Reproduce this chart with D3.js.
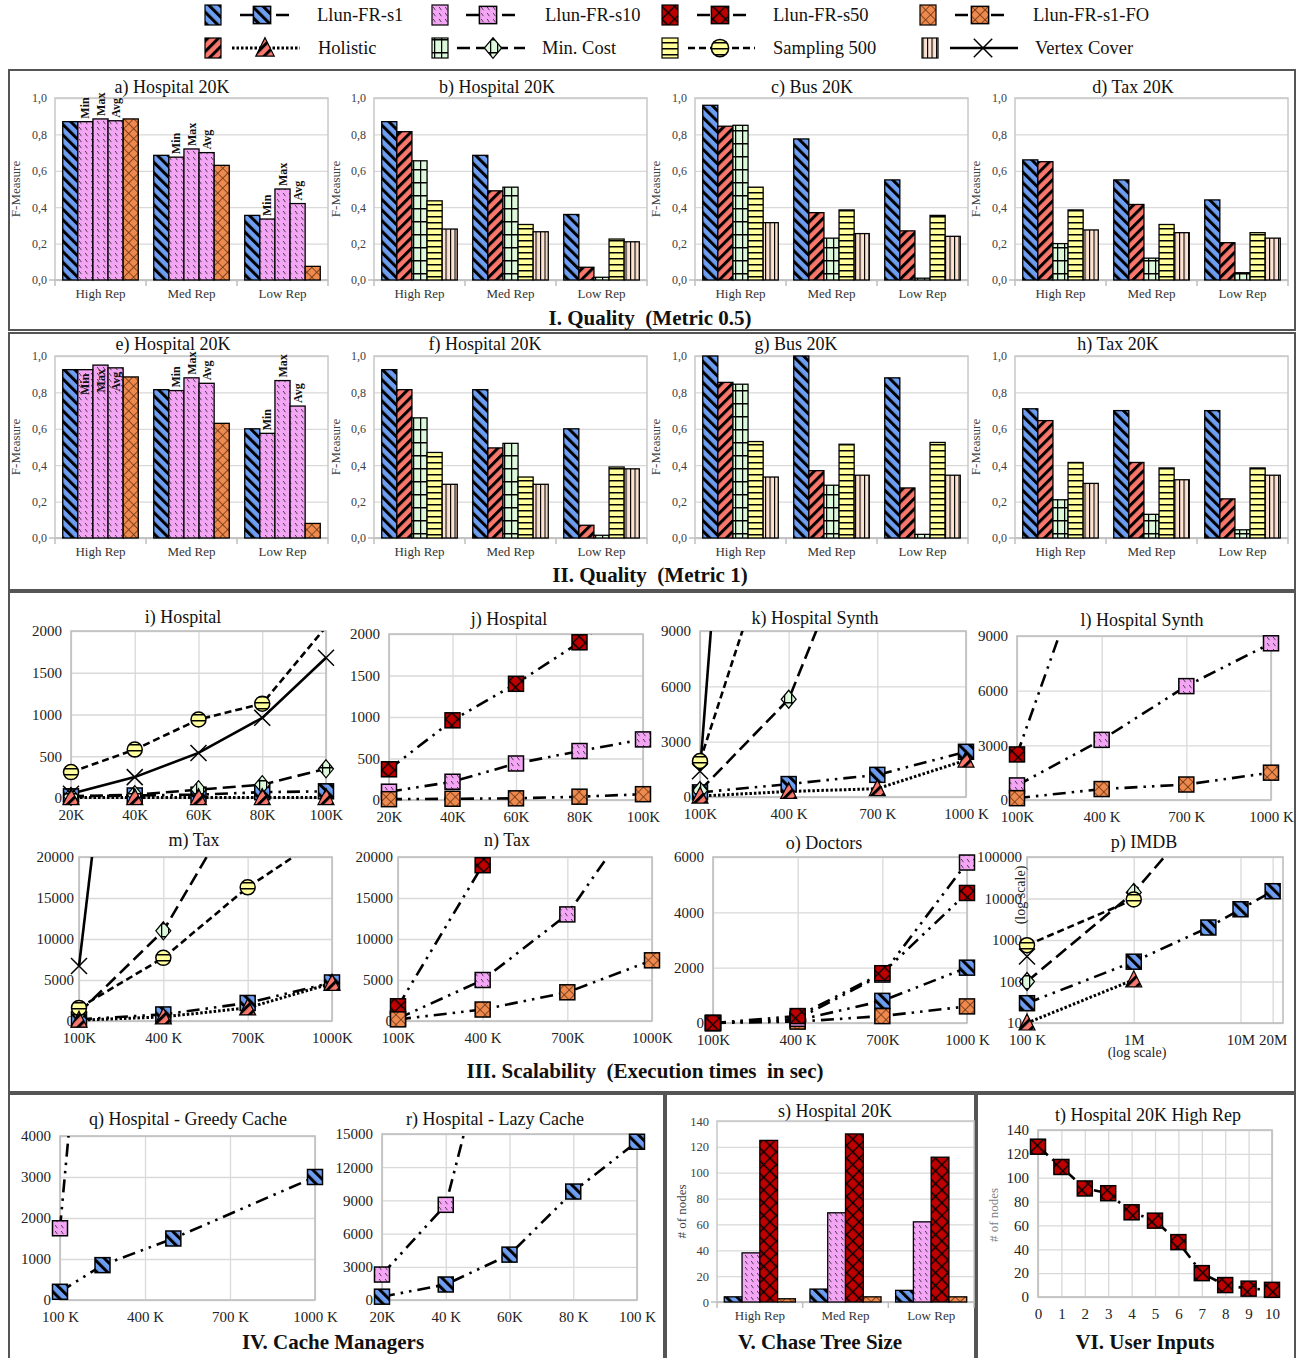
<!DOCTYPE html>
<html><head><meta charset="utf-8">
<script src="https://cdn.jsdelivr.net/npm/d3@7"></script>
<style>body{margin:0;background:#fff}svg{display:block}</style>
</head><body>
<svg id="chart" width="1306" height="1358"></svg>
<script>
// ---------------- DATA ----------------
const seriesKeys = ["s1","s10","s50","fo","hol","min","samp","vc"];
const seriesNames = ["Llun-FR-s1","Llun-FR-s10","Llun-FR-s50","Llun-FR-s1-FO","Holistic","Min. Cost","Sampling 500","Vertex Cover"];
const repCategories = ["High Rep","Med Rep","Low Rep"];
const fTicks = [0,0.2,0.4,0.6,0.8,1.0];

// a) / e): Llun-FR-s1, s10 Min, s10 Max, s10 Avg, s1-FO
const variantSeries = ["s1","s10","s10","s10","fo"];
const variantLabels = ["","Min","Max","Avg",""];
const aValues = [[0.87,0.87,0.885,0.875,0.885],[0.685,0.675,0.72,0.70,0.63],[0.355,0.335,0.50,0.42,0.075]];
const eValues = [[0.925,0.925,0.95,0.935,0.885],[0.815,0.81,0.88,0.85,0.63],[0.60,0.575,0.865,0.725,0.08]];
// b,c,d,f,g,h: Llun-FR-s1, Holistic, Min. Cost, Sampling 500, Vertex Cover
const compareSeries = ["s1","hol","min","samp","vc"];
const bValues = [[0.87,0.815,0.655,0.435,0.28],[0.685,0.49,0.51,0.305,0.265],[0.36,0.07,0.015,0.225,0.21]];
const cValues = [[0.96,0.845,0.85,0.51,0.315],[0.775,0.37,0.23,0.385,0.255],[0.55,0.27,0.01,0.355,0.24]];
const dValues = [[0.66,0.65,0.20,0.385,0.275],[0.55,0.415,0.12,0.305,0.26],[0.44,0.205,0.04,0.26,0.23]];
const fValues = [[0.925,0.815,0.66,0.47,0.295],[0.815,0.495,0.52,0.335,0.295],[0.60,0.07,0.015,0.39,0.38]];
const gValues = [[1.0,0.855,0.845,0.53,0.335],[1.0,0.37,0.29,0.515,0.345],[0.88,0.275,0.02,0.525,0.345]];
const hValues = [[0.71,0.645,0.21,0.415,0.30],[0.70,0.415,0.13,0.385,0.32],[0.70,0.215,0.045,0.385,0.345]];
// s) chase tree size: s1, s10, s50, s1-FO
const treeSeries = ["s1","s10","s50","fo"];
const sValues = [[4,38,125,2.5],[10,69,130,4],[9,62,112,4]];
const nodeTicks = [0,20,40,60,80,100,120,140];

// i) Hospital (x in K)
const iX = [20,40,60,80,100];
const iXLabels = ["20K","40K","60K","80K","100K"];
const iS1 = [20,30,40,70,80];
const iMin = [20,40,100,160,350];
const iSamp = [310,580,940,1130,2050];
const iVC = [50,250,540,960,1680];
const iHol = [5,5,5,5,5];
const iYTicks = [0,500,1000,1500,2000];
// j) Hospital
const jS10 = [100,220,440,590,730];
const jS50 = [370,960,1400,1900,2500];
const jFO = [10,15,20,40,70];
// k) Hospital Synth (x in K)
const kX = [100,400,700,1000];
const kXLabels = ["100K","400 K","700 K","1000 K"];
const kS1 = [250,700,1200,2450];
const kMin = [350,5300,17200,null];
const kSamp = [1950,16700,null,null];
const kVC = [1400,63500,null,null];
const kHol = [50,300,450,2000];
const kYTicks = [0,3000,6000,9000];
// l) Hospital Synth
const lS10 = [800,3300,6250,8600];
const lS50 = [2500,15600,null,null];
const lFO = [100,600,850,1500];
// m) Tax
const mXLabels = ["100K","400 K","700K","1000K"];
const mS1 = [200,800,2200,4700];
const mMin = [1000,11000,28500,null];
const mSamp = [1600,7700,16300,23150];
const mVC = [6700,93000,null,null];
const mHol = [100,500,1600,4600];
const mYTicks = [0,5000,10000,15000,20000];
// n) Tax
const nS10 = [300,5000,13000,27800];
const nS50 = [1800,19000,60000,null];
const nFO = [200,1400,3500,7400];
// o) Doctors
const oXLabels = ["100K","400 K","700K","1000 K"];
const oS1 = [0,100,800,2000];
const oS10 = [0,150,1750,5800];
const oS50 = [0,250,1800,4700];
const oFO = [0,50,250,600];
const oYTicks = [0,2000,4000,6000];
// p) IMDB (log-log)
const pX = [1e5,1e6,5e6,1e7,2e7];
const pXTicks = [1e5,1e6,1e7,2e7];
const pXLabels = ["100 K","1M","10M","20M"];
const pS1 = [30,300,2000,5500,15000];
const pMin = [100,14000,1.7e6,null,null];
const pSamp = [750,9500,null,null,null];
const pVC = [400,null,null,null,null];
const pHol = [10,110,null,null,null];
const pYTicks = [10,100,1000,10000,100000];
// q) Greedy Cache (x in K)
const qX = [100,250,500,1000];
const qXTicks = [100,400,700,1000];
const qXLabels = ["100 K","400 K","700 K","1000 K"];
const qS1 = [200,850,1500,3000];
const qS10 = [1750,13000,null,null];
const qYTicks = [0,1000,2000,3000,4000];
// r) Lazy Cache
const rXLabels = ["20K","40 K","60K","80 K","100 K"];
const rS1 = [300,1400,4100,9800,14300];
const rS10 = [2300,8600,31000,null,null];
const rYTicks = [0,3000,6000,9000,12000,15000];
// t) User inputs
const tX = [0,1,2,3,4,5,6,7,8,9,10];
const tS50 = [126,109,91,87,71,64,46,20,10,7,6];

// ---------------- STYLE ----------------
const SERIF = "'Liberation Serif','Times New Roman',Times,serif";
const COL = {s1:"#6d9ef2",s10:"#f3a6f3",s50:"#c00000",fo:"#ef8a4e",hol:"#fa776c",min:"#dcf9dc",samp:"#ffff9c",vc:"#fde4d2"};
const MARK = {s1:"square",s10:"square",s50:"square",fo:"square",hol:"triangle",min:"diamond",samp:"circle",vc:"x"};
const DASH = {s1:"13,6,2.5,6,2.5,6",s10:"13,6,2.5,6,2.5,6",s50:"13,6,2.5,6,2.5,6",fo:"13,6,2.5,6,2.5,6",hol:"2.5,2",min:"13,6",samp:"7,4",vc:null};

const svg = d3.select("#chart").attr("font-family",SERIF);
const defs = svg.append("defs");

function pat(id,w,h,rot,bg,draw){
  const p = defs.append("pattern").attr("id",id).attr("patternUnits","userSpaceOnUse").attr("width",w).attr("height",h);
  if(rot) p.attr("patternTransform",`rotate(${rot})`);
  p.append("rect").attr("width",w).attr("height",h).attr("fill",bg);
  draw(p,w,h);
}
pat("pat-s1",7.5,7.5,-45,COL.s1,(p,w,h)=>p.append("rect").attr("width",3).attr("height",h).attr("fill","#000"));
pat("pat-hol",7.5,7.5,45,COL.hol,(p,w,h)=>p.append("rect").attr("width",3).attr("height",h).attr("fill","#000"));
pat("pat-s10",6,6,0,COL.s10,(p)=>p.append("path").attr("d","M1.2,1 L3.4,4.2").attr("stroke","#4a2a4a").attr("stroke-width",0.9));
pat("pat-s50",9,9,45,COL.s50,(p,w,h)=>p.append("path").attr("d",`M0,${h/2}H${w}M${w/2},0V${h}`).attr("stroke","#000").attr("stroke-width",1.3));
pat("pat-fo",7,7,45,COL.fo,(p,w,h)=>p.append("path").attr("d",`M0,${h/2}H${w}M${w/2},0V${h}`).attr("stroke","#6b3515").attr("stroke-width",0.8));
pat("pat-min",7,13,0,COL.min,(p,w,h)=>p.append("path").attr("d",`M0,0.75H${w}M0.6,0V${h}`).attr("stroke","#000").attr("stroke-width",1.3));
pat("pat-samp",10,6,0,COL.samp,(p,w,h)=>p.append("rect").attr("width",w).attr("height",1.5).attr("fill","#000"));
pat("pat-vc",4.5,10,0,COL.vc,(p,w,h)=>p.append("rect").attr("width",1.1).attr("height",h).attr("fill","#000"));

function drawMarker(g,key,cx,cy,s){
  s = s||1;
  const t = MARK[key], fill = `url(#pat-${key})`;
  if(t==="square") g.append("rect").attr("x",cx-7.5*s).attr("y",cy-7.5*s).attr("width",15*s).attr("height",15*s).attr("fill",fill).attr("stroke","#000").attr("stroke-width",1.5);
  else if(t==="circle") g.append("circle").attr("cx",cx).attr("cy",cy).attr("r",7.5*s).attr("fill",fill).attr("stroke","#000").attr("stroke-width",1.5);
  else if(t==="diamond") g.append("path").attr("d",`M${cx},${cy-9*s}L${cx+7.5*s},${cy}L${cx},${cy+9*s}L${cx-7.5*s},${cy}Z`).attr("fill",fill).attr("stroke","#000").attr("stroke-width",1.2);
  else if(t==="triangle") g.append("path").attr("d",`M${cx},${cy-9*s}L${cx+8*s},${cy+7*s}L${cx-8*s},${cy+7*s}Z`).attr("fill",fill).attr("stroke","#000").attr("stroke-width",1.2);
  else if(t==="x") g.append("path").attr("d",`M${cx-8*s},${cy-8*s}L${cx+8*s},${cy+8*s}M${cx+8*s},${cy-8*s}L${cx-8*s},${cy+8*s}`).attr("fill","none").attr("stroke","#000").attr("stroke-width",1.5);
}
function styleLine(sel,key){
  sel.attr("fill","none").attr("stroke","#000").attr("stroke-width",key==="hol"?3:2.6);
  if(DASH[key]) sel.attr("stroke-dasharray",DASH[key]);
}

// ---------------- BOXES ----------------
const boxes = [[9,70,1286,260],[9,333,1286,257],[9,592,1286,500],[9,1094,655,280],[666,1094,309,280],[977,1094,318,280]];
svg.selectAll(".box").data(boxes).join("rect").attr("x",d=>d[0]).attr("y",d=>d[1]).attr("width",d=>d[2]).attr("height",d=>d[3])
  .attr("fill","none").attr("stroke","#555").attr("stroke-width",2);

// ---------------- LEGEND ----------------
const legendPos = [[213,240,292,262,317,15],[440,466,520,488,545,15],[670,697,747,720,773,15],[928,955,1005,980,1033,15],
                   [213,232,300,265,318,48],[440,457,525,493,542,48],[670,688,755,720,773,48],[930,950,1018,983,1035,48]];
const lg = svg.append("g");
seriesKeys.forEach((k,i)=>{
  const [sx,l0,l1,mx,tx,y] = legendPos[i];
  lg.append("rect").attr("x",sx-8).attr("y",y-10).attr("width",16).attr("height",20).attr("fill",`url(#pat-${k})`).attr("stroke","#000").attr("stroke-width",1.2);
  styleLine(lg.append("line").attr("x1",l0).attr("x2",l1).attr("y1",y).attr("y2",y),k);
  drawMarker(lg,k,mx,y,1.15);
  lg.append("text").attr("x",tx).attr("y",y+6).attr("font-size",18.5).attr("fill","#111").text(seriesNames[i]);
});

// ---------------- BAR PANELS ----------------
function barPanel(o){
  const g = svg.append("g");
  const w=o.x1-o.x0, h=o.y1-o.y0;
  const x = d3.scaleBand().domain(repCategories).range([o.x0,o.x1]);
  const y = d3.scaleLinear().domain([0,o.yMax]).range([o.y1,o.y0]);
  const bw = x.bandwidth();
  const inner = d3.scaleBand().domain(d3.range(o.series.length)).range([bw*0.085,bw*0.915]);
  const ya = g.append("g").attr("transform",`translate(${o.x0},0)`)
    .call(d3.axisLeft(y).tickValues(o.yTicks).tickSize(-w).tickPadding(8).tickFormat(o.fmt));
  ya.select(".domain").remove();
  ya.selectAll("line").attr("stroke","#d9d9d9").attr("stroke-width",1.3);
  ya.attr("font-family",SERIF).attr("font-size",o.yFont||12);
  ya.selectAll("text").attr("fill","#404040");
  g.append("rect").attr("x",o.x0).attr("y",o.y0).attr("width",w).attr("height",h).attr("fill","none").attr("stroke","#c8c8c8").attr("stroke-width",1.5);
  const xa = g.append("g").attr("transform",`translate(0,${o.y1})`).call(d3.axisBottom(x).tickSize(0).tickPadding(9));
  xa.select(".domain").remove();
  xa.attr("font-family",SERIF).attr("font-size",13);
  xa.selectAll("text").attr("fill","#333");
  g.append("line").attr("x1",o.x0-6).attr("x2",o.x1).attr("y1",o.y1).attr("y2",o.y1).attr("stroke","#bfbfbf").attr("stroke-width",1.5);
  g.selectAll(".sep").data(d3.range(repCategories.length+1)).join("line")
    .attr("x1",i=>o.x0+i*bw).attr("x2",i=>o.x0+i*bw).attr("y1",o.y1).attr("y2",o.y1+6).attr("stroke","#bfbfbf").attr("stroke-width",1.5);
  o.values.forEach((row,ci)=>{
    row.forEach((v,si)=>{
      const key = o.series[si];
      const bx = x(repCategories[ci])+inner(si);
      g.append("rect").attr("x",bx).attr("y",y(v)).attr("width",inner.bandwidth()).attr("height",y(0)-y(v))
        .attr("fill",`url(#pat-${key})`).attr("stroke","#000").attr("stroke-width",1.3);
      if(o.labels && o.labels[si]){
        const cx = bx+inner.bandwidth()/2+4;
        const inside = v>0.9;
        g.append("text").attr("transform",`translate(${cx},${inside?y(v)+4:y(v)-3}) rotate(-90)`)
          .attr("text-anchor",inside?"end":"start").attr("font-size",12).attr("font-weight","bold").attr("fill","#111").text(o.labels[si]);
      }
    });
  });
  g.append("text").attr("transform",`translate(${o.ytx},${(o.y0+o.y1)/2}) rotate(-90)`).attr("text-anchor","middle")
    .attr("font-size",13).attr("fill",o.ytColor||"#404040").text(o.ytitle);
  g.append("text").attr("x",o.tx).attr("y",o.ty).attr("text-anchor","middle").attr("font-size",18).attr("fill","#111").text(o.title);
}
const fFmt = d=>d.toFixed(1).replace(".",",");
const barCols = [[55,328],[374,647],[695,968],[1015,1288]];
const ytX = [20,340,660,980];
const rowI = {y0:98,y1:280,ty:93}, rowII = {y0:356,y1:538,ty:350};
[
 {row:rowI,col:0,title:"a) Hospital 20K",tx:172,values:aValues,series:variantSeries,labels:variantLabels},
 {row:rowI,col:1,title:"b) Hospital 20K",tx:497,values:bValues,series:compareSeries},
 {row:rowI,col:2,title:"c) Bus 20K",tx:812,values:cValues,series:compareSeries},
 {row:rowI,col:3,title:"d) Tax 20K",tx:1133,values:dValues,series:compareSeries},
 {row:rowII,col:0,title:"e) Hospital 20K",tx:173,values:eValues,series:variantSeries,labels:variantLabels},
 {row:rowII,col:1,title:"f) Hospital 20K",tx:485,values:fValues,series:compareSeries},
 {row:rowII,col:2,title:"g) Bus 20K",tx:796,values:gValues,series:compareSeries},
 {row:rowII,col:3,title:"h) Tax 20K",tx:1118,values:hValues,series:compareSeries}
].forEach(p=>barPanel({x0:barCols[p.col][0],x1:barCols[p.col][1],y0:p.row.y0,y1:p.row.y1,ty:p.row.ty,tx:p.tx,title:p.title,
  values:p.values,series:p.series,labels:p.labels,yMax:1,yTicks:fTicks,fmt:fFmt,ytitle:"F-Measure",ytx:ytX[p.col]}));

barPanel({x0:717,x1:974,y0:1121,y1:1302,ty:1117,tx:835,title:"s) Hospital 20K",values:sValues,series:treeSeries,
  yMax:140,yTicks:nodeTicks,fmt:d3.format("d"),ytitle:"# of nodes",ytx:686,yFont:12.5});

// ---------------- LINE PANELS ----------------
function linePanel(o){
  const g = svg.append("g");
  const w=o.x1-o.x0, h=o.y1-o.y0;
  const x = (o.logX?d3.scaleLog():d3.scaleLinear()).domain(o.xDomain).range([o.x0,o.x1]);
  const y = (o.logY?d3.scaleLog():d3.scaleLinear()).domain(o.yDomain).range([o.y1,o.y0]);
  const ya = g.append("g").attr("transform",`translate(${o.x0},0)`)
    .call(d3.axisLeft(y).tickValues(o.yTicks).tickSize(-w).tickPadding(o.yPad||9).tickFormat(d3.format("d")));
  const xa = g.append("g").attr("transform",`translate(0,${o.y1})`)
    .call(d3.axisBottom(x).tickValues(o.xTicks).tickSize(-h).tickPadding(11).tickFormat((d,i)=>o.xLabels[i]));
  [ya,xa].forEach(a=>{
    a.select(".domain").remove();
    a.selectAll("line").attr("stroke","#d9d9d9").attr("stroke-width",1.3);
    a.attr("font-family",SERIF).attr("font-size",o.font||15);
    a.selectAll("text").attr("fill","#222");
  });
  g.append("rect").attr("x",o.x0).attr("y",o.y0).attr("width",w).attr("height",h).attr("fill","none").attr("stroke","#bfbfbf").attr("stroke-width",1.6);
  const cid = "clip-"+o.id;
  defs.append("clipPath").attr("id",cid).append("rect").attr("x",o.x0-12).attr("y",o.y0).attr("width",w+24).attr("height",h+12);
  const lg2 = g.append("g").attr("clip-path",`url(#${cid})`);
  const mg = g.append("g");
  const yMax = o.yDomain[1];
  o.series.forEach(([key,vals])=>{
    const pts = o.xValues.map((xv,i)=>[xv,vals[i]]);
    const gen = d3.line().defined(d=>d[1]!=null).x(d=>x(d[0])).y(d=>y(d[1]));
    styleLine(lg2.append("path").datum(pts).attr("d",gen),key);
  });
  o.series.forEach(([key,vals])=>{
    o.xValues.forEach((xv,i)=>{
      const v = vals[i];
      if(v==null || v>yMax) return;
      drawMarker(mg,key,x(xv),y(v));
    });
  });
  g.append("text").attr("x",o.tx).attr("y",o.ty).attr("text-anchor","middle").attr("font-size",18).attr("fill","#111").text(o.title);
  return g;
}
linePanel({id:"i",x0:71,x1:326,y0:631,y1:798,xDomain:[20,100],yDomain:[0,2000],xValues:iX,xTicks:iX,xLabels:iXLabels,yTicks:iYTicks,
  title:"i) Hospital",tx:183,ty:623,series:[["s1",iS1],["min",iMin],["samp",iSamp],["vc",iVC],["hol",iHol]]});
linePanel({id:"j",x0:389,x1:643,y0:634,y1:800,xDomain:[20,100],yDomain:[0,2000],xValues:iX,xTicks:iX,xLabels:iXLabels,yTicks:iYTicks,
  title:"j) Hospital",tx:509,ty:625,series:[["s10",jS10],["s50",jS50],["fo",jFO]]});
linePanel({id:"k",x0:700,x1:966,y0:631,y1:797,xDomain:[100,1000],yDomain:[0,9000],xValues:kX,xTicks:kX,xLabels:kXLabels,yTicks:kYTicks,
  title:"k) Hospital Synth",tx:815,ty:624,series:[["s1",kS1],["min",kMin],["samp",kSamp],["vc",kVC],["hol",kHol]]});
linePanel({id:"l",x0:1017,x1:1271,y0:636,y1:800,xDomain:[100,1000],yDomain:[0,9000],xValues:kX,xTicks:kX,xLabels:kXLabels,yTicks:kYTicks,
  title:"l) Hospital Synth",tx:1142,ty:626,series:[["s10",lS10],["s50",lS50],["fo",lFO]]});
linePanel({id:"m",x0:79,x1:332,y0:857,y1:1021,xDomain:[100,1000],yDomain:[0,20000],xValues:kX,xTicks:kX,xLabels:mXLabels,yTicks:mYTicks,yPad:5,
  title:"m) Tax",tx:194,ty:846,series:[["s1",mS1],["min",mMin],["samp",mSamp],["vc",mVC],["hol",mHol]]});
linePanel({id:"n",x0:398,x1:652,y0:857,y1:1021,xDomain:[100,1000],yDomain:[0,20000],xValues:kX,xTicks:kX,xLabels:mXLabels,yTicks:mYTicks,yPad:5,
  title:"n) Tax",tx:507,ty:846,series:[["s10",nS10],["s50",nS50],["fo",nFO]]});
linePanel({id:"o",x0:713,x1:967,y0:857,y1:1023,xDomain:[100,1000],yDomain:[0,6000],xValues:kX,xTicks:kX,xLabels:oXLabels,yTicks:oYTicks,
  title:"o) Doctors",tx:824,ty:849,series:[["s1",oS1],["fo",oFO],["s10",oS10],["s50",oS50]]});
const pg = linePanel({id:"p",x0:1027,x1:1283,y0:857,y1:1023,logX:true,logY:true,xDomain:[1e5,2.5e7],yDomain:[10,1e5],xValues:pX,xTicks:pXTicks,xLabels:pXLabels,yTicks:pYTicks,yPad:5,
  title:"p) IMDB",tx:1144,ty:848,series:[["s1",pS1],["min",pMin],["samp",pSamp],["vc",pVC],["hol",pHol]]});
pg.append("text").attr("x",1137).attr("y",1057).attr("text-anchor","middle").attr("font-size",14).attr("fill","#222").text("(log scale)");
pg.append("text").attr("transform","translate(1025,895) rotate(-90)").attr("text-anchor","middle").attr("font-size",14).attr("fill","#222").text("(log scale)");
linePanel({id:"q",x0:60,x1:315,y0:1136,y1:1300,xDomain:[100,1000],yDomain:[0,4000],xValues:qX,xTicks:qXTicks,xLabels:qXLabels,yTicks:qYTicks,
  title:"q) Hospital - Greedy Cache",tx:188,ty:1125,series:[["s10",qS10],["s1",qS1]]});
linePanel({id:"r",x0:382,x1:637,y0:1134,y1:1300,xDomain:[20,100],yDomain:[0,15000],xValues:iX,xTicks:iX,xLabels:rXLabels,yTicks:rYTicks,
  title:"r) Hospital - Lazy Cache",tx:495,ty:1125,series:[["s10",rS10],["s1",rS1]]});
const tg = linePanel({id:"t",x0:1038,x1:1272,y0:1130,y1:1297,xDomain:[0,10],yDomain:[0,140],xValues:tX,xTicks:tX,xLabels:tX.map(String),yTicks:nodeTicks,
  title:"t) Hospital 20K High Rep",tx:1148,ty:1121,series:[["s50",tS50]]});
tg.append("text").attr("transform","translate(998,1215) rotate(-90)").attr("text-anchor","middle").attr("font-size",13).attr("fill","#808080").text("# of nodes");

// ---------------- SECTION TITLES ----------------
const sections = [["I. Quality  (Metric 0.5)",650,325],["II. Quality  (Metric 1)",650,582],["III. Scalability  (Execution times  in sec)",645,1078],
  ["IV. Cache Managers",333,1349],["V. Chase Tree Size",820,1349],["VI. User Inputs",1145,1349]];
svg.selectAll(".sec").data(sections).join("text").attr("x",d=>d[1]).attr("y",d=>d[2]).attr("text-anchor","middle")
  .attr("font-size",21).attr("font-weight","bold").attr("fill","#111").attr("xml:space","preserve").style("white-space","pre").text(d=>d[0]);
</script>
</body></html>
